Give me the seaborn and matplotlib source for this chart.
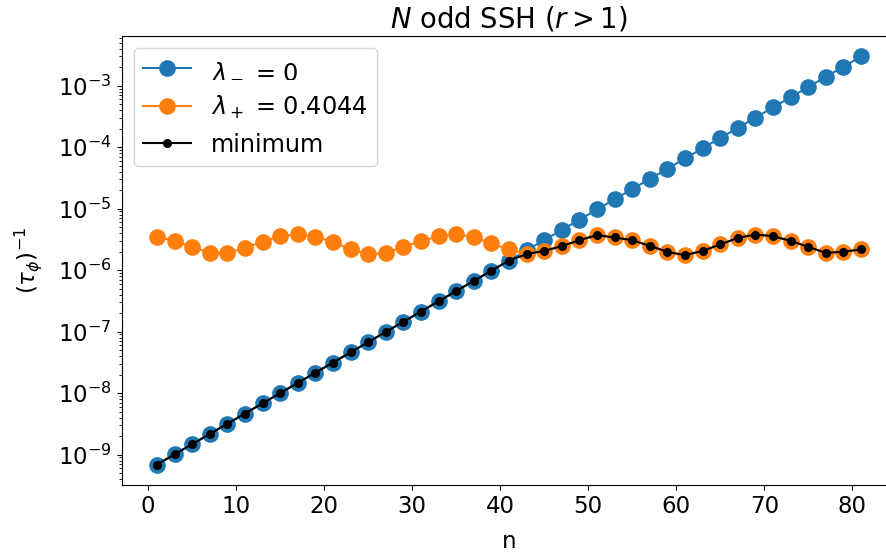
import numpy as np
import pandas as pd
import matplotlib
matplotlib.use("Agg")
import matplotlib.pyplot as plt
import seaborn as sns

n_values = list(range(1, 82, 2))

lambda_minus = [6.87e-10, 1.007e-9, 1.476e-9, 2.163e-9, 3.17e-9, 4.65e-9, 6.81e-9,
                9.98e-9, 1.462e-8, 2.143e-8, 3.14e-8, 4.60e-8, 6.75e-8, 9.89e-8,
                1.449e-7, 2.123e-7, 3.11e-7, 4.56e-7, 6.68e-7, 9.79e-7, 1.435e-6,
                2.104e-6, 3.08e-6, 4.52e-6, 6.62e-6, 9.70e-6, 1.422e-5, 2.084e-5,
                3.05e-5, 4.48e-5, 6.56e-5, 9.62e-5, 1.409e-4, 2.065e-4, 3.03e-4,
                4.44e-4, 6.50e-4, 9.53e-4, 1.396e-3, 2.046e-3, 3.00e-3]

lambda_plus = [3.48e-6, 2.99e-6, 2.39e-6, 1.91e-6, 1.91e-6, 2.30e-6, 2.89e-6,
               3.57e-6, 3.85e-6, 3.48e-6, 2.89e-6, 2.17e-6, 1.82e-6, 1.91e-6,
               2.39e-6, 2.96e-6, 3.57e-6, 3.85e-6, 3.48e-6, 2.72e-6, 2.17e-6,
               1.82e-6, 2.06e-6, 2.46e-6, 3.07e-6, 3.71e-6, 3.40e-6, 3.07e-6,
               2.48e-6, 1.99e-6, 1.75e-6, 2.06e-6, 2.62e-6, 3.35e-6, 3.80e-6,
               3.57e-6, 2.99e-6, 2.39e-6, 1.91e-6, 1.99e-6, 2.17e-6]

label_minus = r"$\lambda_-$ = 0"
label_plus = r"$\lambda_+$ = 0.4044"
label_min = "minimum"

minimum = np.minimum(np.array(lambda_minus), np.array(lambda_plus))

df = pd.DataFrame({"n": n_values, "minus": lambda_minus,
                   "plus": lambda_plus, "minimum": minimum})

plt.rcParams["font.size"] = 16.5
fig = plt.figure(figsize=(8.87, 5.52), dpi=100)
ax = fig.add_axes([0.1372, 0.1214, 0.8733, 0.8134])

sns.lineplot(data=df, x="n", y="minus", ax=ax, color="#1f77b4", marker="o",
             markersize=12, markeredgewidth=0, label=label_minus)
sns.lineplot(data=df, x="n", y="plus", ax=ax, color="#ff7f0e", marker="o",
             markersize=12, markeredgewidth=0, label=label_plus)
sns.lineplot(data=df, x="n", y="minimum", ax=ax, color="black", marker="o",
             markersize=6.5, markeredgewidth=0, label=label_min)

ax.set_yscale("log")
ax.set_xlabel("n", labelpad=9)
ax.set_ylabel(r"$(\tau_\phi)^{-1}$", labelpad=10)
ax.set_title(r"$N$ odd SSH ($r > 1$)")
ax.legend(loc="upper left", fontsize=17.3)

fig.savefig("out.png", dpi=100)
